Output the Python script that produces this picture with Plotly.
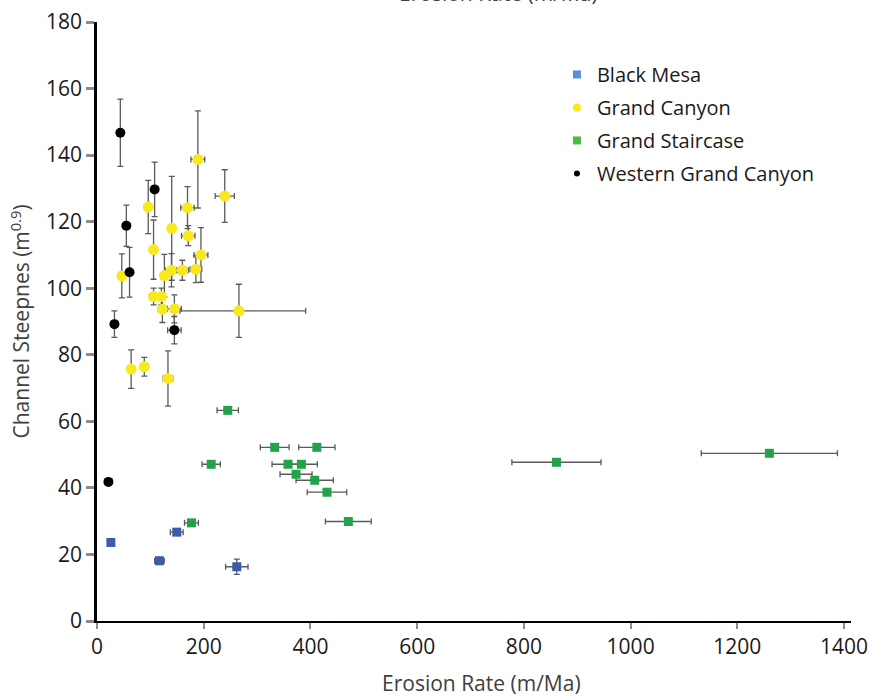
import plotly.graph_objects as go

# ---------------- data ----------------
bm_x = [26, 117, 149.5, 262]
bm_y = [23.6, 18.1, 26.7, 16.3]
bm_xerr = [0, 9, 12, 21]
bm_yerr = [0, 1, 0.5, 2.3]

gc_x = [96, 140, 169.6, 189, 239.4, 171, 106, 194.8, 139.5, 126.3, 160, 185.3,
        46.5, 106, 120.6, 122.5, 145, 266, 64, 88.6, 133]
gc_y = [124.4, 118, 124.2, 138.7, 127.7, 115.8, 111.6, 110, 105.4, 103.8, 105.4, 105.7,
        103.7, 97.5, 97.5, 93.7, 93.8, 93.2, 75.7, 76.4, 72.9]
gc_xerr_plus = [3, 4, 12.6, 13, 18, 12.6, 3, 13, 12, 4, 11, 11,
                3, 7.5, 7.5, 7.5, 13, 125, 5, 7, 9]
gc_xerr_minus = [3, 4, 12.6, 13, 18, 12.6, 3, 13, 12, 4, 11, 11,
                 3, 7.5, 7.5, 7.5, 13, 110.6, 5, 7, 9]
gc_yerr = [8, 15.6, 6.3, 14.6, 7.9, 3, 8.9, 8.2, 5, 6.4, 3, 4,
           6.6, 2.5, 2.5, 4, 4.2, 8, 5.8, 2.8, 8.3]

gs_x = [333, 412, 214, 358, 383, 373, 408, 431, 177, 471, 245, 861, 1260]
gs_y = [52.2, 52.2, 47.1, 47.1, 47.1, 44.1, 42.3, 38.7, 29.5, 29.9, 63.3, 47.7, 50.4]
gs_xerr = [27, 34, 17, 30, 30, 30, 35, 37, 13, 43, 20, 83.5, 127.6]
gs_yerr = [1, 0, 1, 0, 0, 0, 0, 0, 0, 0, 0, 0, 0]

wgc_x = [43.7, 108, 55, 61, 32.7, 145, 21.4]
wgc_y = [146.7, 129.7, 118.8, 104.8, 89.2, 87.4, 41.8]
wgc_xerr = [0, 3, 0, 0, 0, 12.6, 0]
wgc_yerr = [10.1, 8.2, 6.2, 7.5, 4, 4.1, 0]

series_names = ["Black Mesa", "Grand Canyon", "Grand Staircase", "Western Grand Canyon"]

x_ticks = [0, 200, 400, 600, 800, 1000, 1200, 1400]
y_ticks = [0, 20, 40, 60, 80, 100, 120, 140, 160, 180]

# ---------------- styles ----------------
ERR = "#5a5a5a"
FONT = "Open Sans"

fig = go.Figure()

def err(arr, minus=None):
    d = dict(type="data", array=arr, visible=True, color=ERR, thickness=1.3, width=3)
    if minus is not None:
        d["arrayminus"] = minus
        d["symmetric"] = False
    return d

fig.add_trace(go.Scatter(
    x=bm_x, y=bm_y, mode="markers", showlegend=False,
    marker=dict(symbol="square", size=9, color="#3a5caa"),
    error_x=err(bm_xerr), error_y=err(bm_yerr)))

fig.add_trace(go.Scatter(
    x=gc_x, y=gc_y, mode="markers", showlegend=False,
    marker=dict(symbol="circle", size=11, color="#f7e91e"),
    error_x=err(gc_xerr_plus, gc_xerr_minus), error_y=err(gc_yerr)))

fig.add_trace(go.Scatter(
    x=gs_x, y=gs_y, mode="markers", showlegend=False,
    marker=dict(symbol="square", size=9, color="#22a24a"),
    error_x=err(gs_xerr), error_y=err(gs_yerr)))

fig.add_trace(go.Scatter(
    x=wgc_x, y=wgc_y, mode="markers", showlegend=False,
    marker=dict(symbol="circle", size=10, color="#000000"),
    error_x=err(wgc_xerr), error_y=err(wgc_yerr)))

# legend-only entries
leg_styles = [("square", 8, "#5b8fd8"), ("circle", 8, "#f7e91e"),
              ("square", 8, "#4db848"), ("circle", 6, "#000000")]
for name, (sym, sz, col) in zip(series_names, leg_styles):
    fig.add_trace(go.Scatter(x=[None], y=[None], mode="markers", name=name,
                             legendgroup=name,
                             marker=dict(symbol=sym, size=sz, color=col)))

fig.update_layout(
    width=869, height=696,
    margin=dict(l=97, r=18, t=22, b=75),
    paper_bgcolor="white", plot_bgcolor="white",
    font=dict(family=FONT, size=18, color="#262626"),
    showlegend=True,
    legend=dict(x=0.610, y=0.945, xanchor="left", yanchor="top",
                font=dict(family=FONT, size=20, color="#1a1a1a"),
                bgcolor="rgba(0,0,0,0)", tracegroupgap=4, itemwidth=30),
    xaxis=dict(range=[0, 1413], tickvals=x_ticks, ticktext=[str(v) for v in x_ticks],
               showline=True, linecolor="black", linewidth=2,
               ticks="outside", ticklen=6, tickwidth=1.5, tickcolor="#8c8c8c",
               showgrid=False, zeroline=False, automargin=False,
               ticklabeloverflow="allow",
               tickfont=dict(family=FONT, size=21, color="#1a1a1a")),
    yaxis=dict(range=[0, 180], tickvals=y_ticks, ticktext=[str(v) for v in y_ticks],
               showline=True, linecolor="black", linewidth=2.5,
               ticks="outside", ticklen=8, tickwidth=3, tickcolor="#8c8c8c",
               showgrid=False, zeroline=False, automargin=False,
               ticklabeloverflow="allow",
               tickfont=dict(family=FONT, size=21, color="#1a1a1a")),
    annotations=[
        dict(text="Erosion Rate (m/Ma)", xref="paper", yref="paper",
             x=(481 - 97) / 754, y=(621 - 683) / 599, xanchor="center", yanchor="middle",
             showarrow=False, font=dict(family=FONT, size=21, color="#404040")),
        dict(text="Channel Steepnes (m<sup>0.9</sup>)", xref="paper", yref="paper",
             x=(20 - 97) / 754, y=0.5, xanchor="center", yanchor="middle", textangle=-90,
             showarrow=False, font=dict(family=FONT, size=21, color="#404040")),
        dict(text="Erosion Rate (m/Ma)", xref="paper", yref="paper",
             x=(498 - 97) / 754, y=1 + 13.5 / 599, xanchor="center", yanchor="bottom",
             showarrow=False, font=dict(family=FONT, size=21, color="#404040")),
    ],
)

fig.write_html("out.html")
